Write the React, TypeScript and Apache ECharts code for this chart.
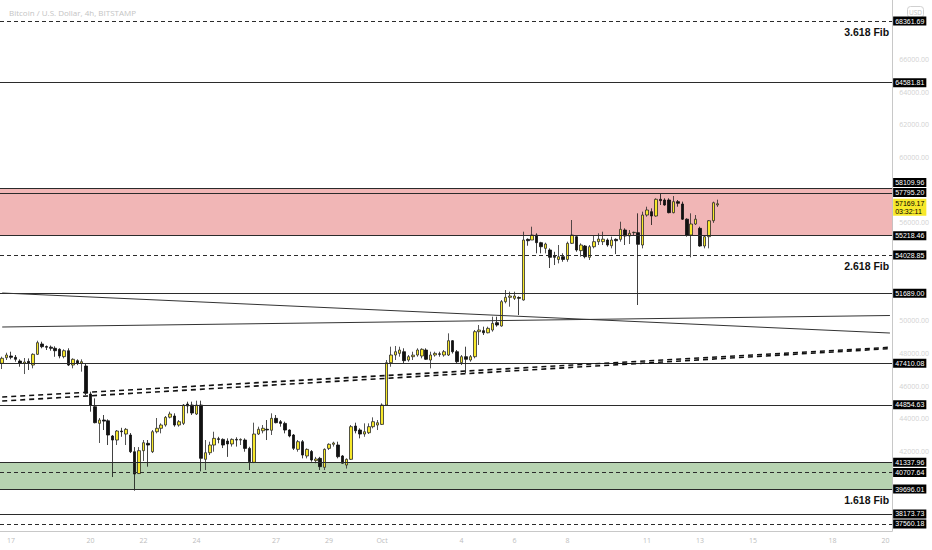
import React, { useEffect, useRef } from 'react';
import * as echarts from 'echarts';

// ---- candle data (4h, BTC/USD) ----
const opens = [
  47399, 47742, 47847, 47767, 47541, 47400, 47520, 47295, 47950, 48582,
  48430, 48390, 48320, 48257, 47810, 48170, 47295, 47560, 47399, 47234,
  45520, 44742, 43723, 43927, 43880, 42948, 42702, 43254, 43070, 43009,
  41986, 40650, 42050, 42500, 41986, 43210, 43420, 43621, 44100, 44173,
  43621, 43723, 44907, 44846, 44295, 44846, 41520, 41925, 42396, 42780,
  42740, 42640, 42460, 42740, 42700, 42702, 42190, 41335, 43070, 43270,
  43360, 43300, 44030, 43825, 43720, 43315, 43009, 42130, 42600, 41725,
  42000, 41440, 41580, 41030, 42190, 42440, 42396, 41725, 41170, 41520,
  43560, 43315, 43070, 43150, 43519, 43620, 43660, 44846, 47437, 47908,
  48010, 48110, 47602, 47806, 47908, 47847, 48214, 47602, 47908, 47980,
  47908, 47908, 48784, 48110, 47437, 47806, 47602, 47806, 49337, 49400,
  49270, 49439, 49888, 49684, 51174, 51440, 51380, 51430, 51276, 54990,
  54950, 55257, 54787, 54440, 54338, 53950, 53760, 53930, 53760, 54746,
  55155, 54300, 54583, 53890, 54540, 54848, 54848, 54950, 54600, 54990,
  54990, 55563, 55196, 55400, 55400, 54644, 56481, 56686, 56420, 57443,
  57400, 57400, 56625, 57300, 57155, 56225, 55257, 55930, 55665, 54583,
  55155, 56132, 57100
];
const closes = [
  47705, 47908, 47767, 47645, 47399, 47480, 47400, 47950, 48662, 48417,
  48380, 48320, 48170, 47847, 48170, 47295, 47645, 47400, 47498, 45562,
  44846, 43764, 43927, 43860, 43009, 42702, 43254, 43210, 43357, 41986,
  40620, 42050, 42538, 42396, 43210, 43420, 43621, 44091, 44295, 43621,
  43825, 44846, 44785, 44356, 44846, 41582, 41925, 42396, 42805, 42740,
  42396, 42460, 42740, 42700, 42740, 42190, 41374, 43070, 43360, 43420,
  43320, 44030, 43764, 43720, 43315, 42948, 42194, 42600, 41784, 42130,
  41478, 41540, 41070, 42130, 42440, 42520, 41680, 41280, 41520, 43519,
  43270, 43070, 43210, 43519, 43825, 43760, 44846, 47437, 47908, 48110,
  48214, 47560, 47806, 47900, 48214, 48257, 47645, 47908, 48010, 47950,
  48110, 48784, 48110, 47498, 47806, 47645, 47806, 49337, 49439, 49270,
  49541, 49847, 49745, 51174, 51440, 51520, 51520, 51380, 54950, 54907,
  55257, 54787, 54540, 54705, 53890, 53890, 53930, 53760, 54746, 55257,
  54338, 54644, 53930, 54540, 54848, 55010, 55000, 54644, 54950, 54907,
  55603, 55196, 55360, 55420, 54685, 56481, 56788, 56420, 57443, 57360,
  57094, 56625, 57300, 57200, 56225, 55257, 55930, 56225, 54583, 55155,
  56132, 57234, 57169.17
];
const lows = [
  47050, 47602, 47645, 47498, 47191, 46744, 46990, 47093, 47908, 48319,
  48214, 48170, 47800, 47705, 47705, 47234, 47093, 47290, 46887, 45458,
  44438, 43723, 42519, 43315, 42396, 40436, 42396, 42900, 42396, 41905,
  39600, 40620, 41416, 41070, 41906, 43112, 43112, 43519, 44030, 43519,
  43519, 43621, 44336, 44234, 44234, 40783, 40865, 41784, 41986, 42500,
  42210, 41670, 42300, 42300, 42396, 41986, 40865, 41290, 43009, 43112,
  42702, 43009, 43723, 43519, 43112, 42870, 42090, 41986, 41580, 41580,
  41374, 41280, 40865, 40865, 42090, 42300, 41580, 41255, 40955, 41478,
  43112, 42805, 42900, 43070, 43420, 43315, 43621, 44784, 47190, 47602,
  47806, 47400, 47498, 47602, 47806, 47705, 47602, 47093, 47806, 47806,
  47806, 47847, 47999, 47400, 47295, 46786, 47498, 47705, 48520, 49133,
  49235, 49337, 49643, 49643, 51072, 50868, 51276, 50357, 51235, 54600,
  54950, 54135, 54135, 54135, 53236, 53419, 53520, 53620, 53620, 54705,
  54235, 53930, 53828, 53726, 54440, 54644, 54644, 54540, 54440, 54090,
  54848, 54644, 54705, 55257, 50970, 54440, 56380, 55869, 56380, 57094,
  57050, 56584, 56584, 56990, 56175, 55155, 53890, 55869, 54540, 54440,
  54440, 56000, 56980
];
const highs = [
  47806, 48049, 48110, 47908, 47645, 47725, 47700, 48012, 48784, 48722,
  48490, 48490, 48440, 48320, 48257, 48320, 47705, 47645, 47645, 47400,
  45660, 45254, 44050, 44234, 43968, 43009, 43315, 43450, 43440, 43130,
  42270, 42270, 42702, 42702, 43315, 44050, 43723, 44173, 44438, 44336,
  43927, 44907, 45050, 45050, 45111, 45111, 42702, 42600, 43210, 42900,
  42805, 42805, 42805, 42870, 42805, 42805, 42290, 43764, 43519, 43621,
  43927, 44336, 44234, 43927, 43825, 43357, 43070, 42702, 42702, 42190,
  42090, 41670, 41670, 42190, 42500, 42600, 42600, 41784, 41580, 43621,
  43764, 43420, 43723, 43723, 44091, 43927, 44948, 47602, 48417, 48460,
  48417, 48320, 47908, 48110, 48320, 48320, 48320, 48110, 48110, 48110,
  48214, 49235, 48826, 48214, 47908, 48417, 47908, 49439, 49745, 49643,
  49643, 50255, 50255, 51276, 51888, 51786, 51786, 51500, 55460, 55050,
  55766, 55360, 54840, 54787, 54440, 54230, 54644, 54135, 54848, 56175,
  55257, 54746, 54644, 54644, 55257, 55360, 55460, 55050, 55155, 55050,
  56072, 55665, 55563, 55460, 56584, 56686, 56990, 56890, 57504, 57770,
  57504, 57504, 57645, 57400, 57300, 56280, 56584, 56481, 55766, 55257,
  56175, 57300, 57420
];

// ---- time axis ----
const slotCount = 202;
const startTime = Date.UTC(2021, 8, 16, 16);
const categories = Array.from({ length: slotCount }, (_, i) =>
  new Date(startTime + i * 4 * 3600 * 1000).toISOString().slice(0, 16)
);
const dayTickIndex = [2, 20, 32, 44, 62, 74, 86, 104, 116, 128, 146, 158, 170, 188, 200];
const dayTickText = ['17', '20', '22', '24', '27', '29', 'Oct', '4', '6', '8', '11', '13', '15', '18', '20'];

// ---- price axis ----
const priceMin = 37131;
const priceMax = 69648;
// ticks that are not hidden behind the level price boxes
const priceTicks = [42000, 44000, 46000, 48000, 50000, 56000, 60000, 62000, 64000, 66000];

// ---- horizontal levels ----
const levelValues = [68361.69, 64581.81, 58109.96, 57795.2, 55218.46, 54028.85, 51689.0, 47410.08, 44854.63, 41337.96, 40707.64, 39696.01, 38173.73, 37560.18];
const levelDashed = [true, false, false, false, false, true, false, false, false, false, true, false, false, true];
const levelLabelShift = [0, 0, -6, -1, 0, 0, 0, 0, 0, 0, 0, 0, 0, 0];

const fibValues = [68361.69, 54028.85, 39696.01];
const fibNames = ['3.618 Fib', '2.618 Fib', '1.618 Fib'];

const redZone = [58109.96, 55218.46];
const greenZone = [41337.96, 39696.01];

const lastPrice = 57169.17;
const countdown = '03:32:11';

// trend lines: start price at left edge, end price at right edge
const trendStartPrice = [51705, 49623, 45336, 45091];
const trendEndPrice = [49255, 50327, 48380, 48300];
const trendDashed = [false, false, true, true];

const YELLOW = '#f7e82a';
const CLEAR = 'rgba(0,0,0,0)';

export default function App() {
  const ref = useRef<HTMLDivElement>(null);

  useEffect(() => {
    if (!ref.current) return;
    const chart = echarts.init(ref.current, undefined, { renderer: 'svg' });

    const candleData = opens.map((o, i) => [o, closes[i], lows[i], highs[i]]);

    const boxLabel = {
      show: true,
      position: 'end',
      distance: 1,
      color: '#fff',
      backgroundColor: '#000',
      fontSize: 7,
      lineHeight: 8,
      fontFamily: 'Liberation Sans',
      padding: [1, 2, 0, 2],
    };

    const levelLines: any[] = levelValues.map((v, i) => ({
      yAxis: v,
      lineStyle: { type: levelDashed[i] ? [4, 3] : 'solid', color: '#2b2b2b', width: 1 },
      label: { ...boxLabel, offset: [0, levelLabelShift[i]], formatter: v.toFixed(2) },
    }));

    const fibLines: any[] = fibValues.map((v, i) => ({
      yAxis: v,
      lineStyle: { color: CLEAR, width: 1 },
      label: {
        show: true,
        position: 'insideEndBottom',
        distance: [3, 5],
        formatter: fibNames[i],
        color: '#111',
        fontSize: 10.5,
        fontWeight: 'bold',
        fontFamily: 'Liberation Sans',
      },
    }));

    const lastLine: any = {
      yAxis: lastPrice,
      lineStyle: { color: CLEAR, width: 1 },
      label: {
        ...boxLabel,
        offset: [0, 3.5],
        formatter: lastPrice.toFixed(2) + '\n' + countdown,
        backgroundColor: YELLOW,
        color: '#000',
        lineHeight: 8,
        padding: [1, 2, 0, 2],
      },
    };

    const trendLines: any[] = trendStartPrice.map((p, i) => [
      {
        coord: [categories[0], p],
        lineStyle: {
          type: trendDashed[i] ? [5, 4] : 'solid',
          color: trendDashed[i] ? '#111' : '#333',
          width: trendDashed[i] ? 1.6 : 1,
        },
        label: { show: false },
      },
      { coord: [categories[slotCount - 1], trendEndPrice[i]] },
    ]);

    chart.setOption({
      animation: false,
      title: {
        text: 'Bitcoin / U.S. Dollar, 4h, BITSTAMP',
        left: 4,
        top: 3,
        textStyle: { fontSize: 8, color: '#c4c4c4', fontWeight: 'normal', fontFamily: 'Open Sans' },
      },
      grid: { left: 0, right: 36, top: 0, bottom: 19, containLabel: false },
      xAxis: {
        type: 'category',
        data: categories,
        boundaryGap: true,
        axisLine: { show: true, lineStyle: { color: '#c8c8c8' } },
        axisTick: { show: false },
        axisLabel: {
          interval: (idx: number) => dayTickIndex.indexOf(idx) >= 0,
          formatter: (_v: string, idx: number) => {
            const k = dayTickIndex.indexOf(idx);
            return k >= 0 ? dayTickText[k] : '';
          },
          color: '#bdbdbd',
          fontSize: 7,
          margin: 6,
          fontFamily: 'Open Sans',
        },
        splitLine: { show: false },
      },
      yAxis: {
        type: 'value',
        position: 'right',
        min: priceMin,
        max: priceMax,
        axisLine: { show: true, lineStyle: { color: '#c8c8c8' } },
        axisTick: { show: false },
        splitLine: { show: false },
        axisLabel: {
          customValues: priceTicks,
          formatter: (v: number) => v.toFixed(2),
          color: '#d2d2d2',
          fontSize: 7,
          margin: 7,
          fontFamily: 'Open Sans',
        },
      },
      graphic: [
        {
          type: 'group',
          left: 905,
          top: 4,
          children: [
            { type: 'rect', shape: { x: 0, y: 0, width: 16, height: 11, r: 3 }, style: { fill: 'none', stroke: '#d0d0d0', lineWidth: 1 } },
            { type: 'text', x: 8, y: 5.5, style: { text: 'USD', fill: '#c4c4c4', fontSize: 6.5, align: 'center', verticalAlign: 'middle', fontFamily: 'Open Sans' } },
          ],
        },
      ],
      series: [
        {
          type: 'candlestick',
          z: 2,
          data: candleData,
          barWidth: 3,
          itemStyle: {
            color: YELLOW,
            color0: '#111',
            borderColor: '#2a2a2a',
            borderColor0: '#111',
            borderWidth: 0.8,
          },
        },
        {
          type: 'line',
          z: 3,
          data: [],
          silent: true,
          markArea: {
            silent: true,
            data: [
              [
                { yAxis: redZone[0], itemStyle: { color: 'rgba(228,110,110,0.5)' } },
                { yAxis: redZone[1] },
              ],
              [
                { yAxis: greenZone[0], itemStyle: { color: 'rgba(84,150,70,0.42)' } },
                { yAxis: greenZone[1] },
              ],
            ],
          },
        },
        {
          type: 'line',
          z: 4,
          data: [],
          silent: true,
          markLine: {
            silent: true,
            symbol: ['none', 'none'],
            data: [...levelLines, ...fibLines, lastLine, ...trendLines],
          },
        },
      ],
    });

    return () => chart.dispose();
  }, []);

  return (
    <div
      ref={ref}
      style={{ position: 'fixed', left: 0, top: 0, width: 932, height: 550, background: '#fff' }}
    />
  );
}
